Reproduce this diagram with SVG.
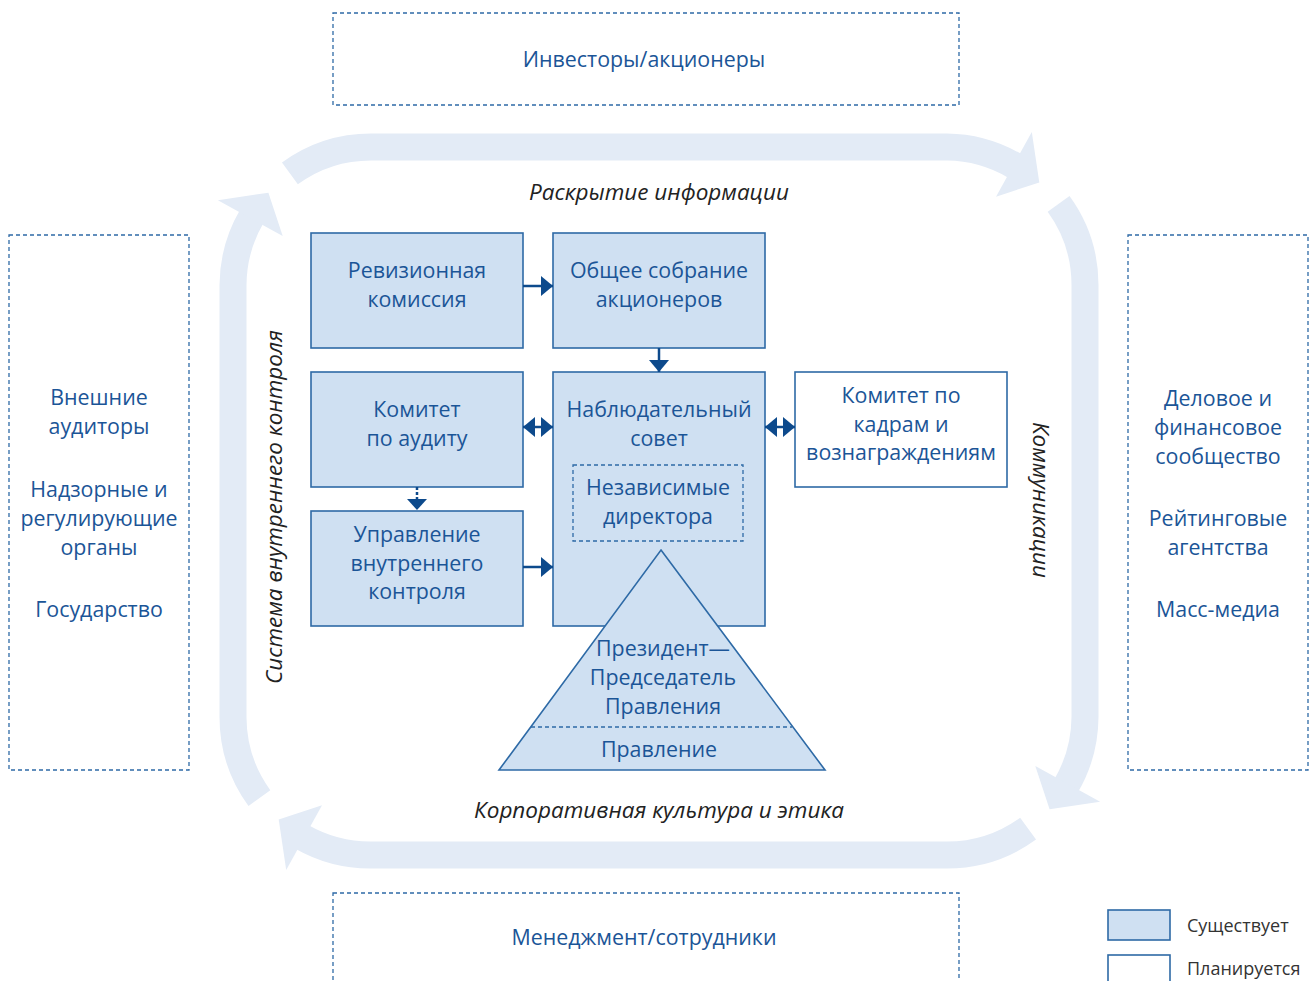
<svg xmlns="http://www.w3.org/2000/svg" width="1309" height="981" viewBox="0 0 1309 981">
<style>
.t{font-family:"Open Sans","Noto Sans","Liberation Sans",sans-serif;font-size:21.4px;fill:#1b5597;text-anchor:middle}
.i{font-family:"Open Sans","Noto Sans","Liberation Sans",sans-serif;font-size:22.5px;font-style:italic;fill:#222;text-anchor:middle}
.lg{font-family:"Open Sans","Noto Sans","Liberation Sans",sans-serif;font-size:18px;fill:#333}
.box{fill:#cfe0f2;stroke:#2e6aa6;stroke-width:1.6}
.wbox{fill:#fff;stroke:#2e6aa6;stroke-width:1.6}
.dbox{fill:none;stroke:#2e6aa6;stroke-width:1.3;stroke-dasharray:4 3}
.band{fill:none;stroke:#e3ebf6;stroke-width:27}
.ah{fill:#e3ebf6}
.ln{stroke:#0d4a8c;stroke-width:2.5;fill:none}
.hd{fill:#0d4a8c}
</style>
<defs>
<marker id="arr" viewBox="0 0 12 20" refX="12" refY="10" markerWidth="12" markerHeight="20" markerUnits="userSpaceOnUse" orient="auto-start-reverse"><path d="M0,0 L12,10 L0,20 Z" fill="#0d4a8c"/></marker>
</defs>
<g id="ring">
<path class="band" d="M289.9,173.4 A138,138 0 0 1 371,147 L947,147 A138,138 0 0 1 1015,166"/>
<polygon class="ah" points="1031.8,131.9 1039.3,182.4 996,196.7"/>
<path class="band" d="M1058.6,203.9 A138,138 0 0 1 1085,285 L1085,717 A138,138 0 0 1 1066,786"/>
<polygon class="ah" points="1100.1,801.8 1049.6,809.3 1035.3,766"/>
<path class="band" d="M1028.1,828.6 A138,138 0 0 1 947,855 L371,855 A138,138 0 0 1 302,837"/>
<polygon class="ah" points="286.2,870.1 278.7,819.6 322,805.3"/>
<path class="band" d="M259.4,798.1 A138,138 0 0 1 233,717 L233,285 A138,138 0 0 1 252,216"/>
<polygon class="ah" points="217.9,200.2 268.4,192.7 282.7,236"/>
</g>
<g id="investors"><rect class="dbox" x="333" y="13" width="626" height="92"/><text class="t" x="644" y="67">Инвесторы/акционеры</text></g>
<g id="external"><rect class="dbox" x="9" y="235" width="180" height="535"/>
<text class="t" x="99" y="405">Внешние</text><text class="t" x="99" y="434">аудиторы</text>
<text class="t" x="99" y="497">Надзорные и</text><text class="t" x="99" y="526">регулирующие</text><text class="t" x="99" y="555">органы</text>
<text class="t" x="99" y="617">Государство</text></g>
<g id="business"><rect class="dbox" x="1128" y="235" width="180" height="535"/>
<text class="t" x="1218" y="406">Деловое и</text><text class="t" x="1218" y="435">финансовое</text><text class="t" x="1218" y="464">сообщество</text>
<text class="t" x="1218" y="526">Рейтинговые</text><text class="t" x="1218" y="555">агентства</text>
<text class="t" x="1218" y="617">Масс-медиа</text></g>
<g id="management"><rect class="dbox" x="333" y="893" width="626" height="100"/><text class="t" x="644" y="945">Менеджмент/сотрудники</text></g>
<g id="revision"><rect class="box" x="311" y="233" width="212" height="115"/><text class="t" x="417" y="278">Ревизионная</text><text class="t" x="417" y="307">комиссия</text></g>
<g id="assembly"><rect class="box" x="553" y="233" width="212" height="115"/><text class="t" x="659" y="278">Общее собрание</text><text class="t" x="659" y="307">акционеров</text></g>
<g id="audit"><rect class="box" x="311" y="372" width="212" height="115"/><text class="t" x="417" y="417">Комитет</text><text class="t" x="417" y="446">по аудиту</text></g>
<g id="board"><rect class="box" x="553" y="372" width="212" height="254"/><text class="t" x="659" y="417">Наблюдательный</text><text class="t" x="659" y="446">совет</text></g>
<g id="independent"><rect class="dbox" x="573" y="465" width="170" height="76"/><text class="t" x="658" y="495">Независимые</text><text class="t" x="658" y="524">директора</text></g>
<g id="hr"><rect class="wbox" x="795" y="372" width="212" height="115"/><text class="t" x="901" y="403">Комитет по</text><text class="t" x="901" y="432">кадрам и</text><text class="t" x="901" y="460">вознаграждениям</text></g>
<g id="control"><rect class="box" x="311" y="511" width="212" height="115"/><text class="t" x="417" y="542">Управление</text><text class="t" x="417" y="571">внутреннего</text><text class="t" x="417" y="599">контроля</text></g>
<g id="executive"><polygon class="box" points="661,550 825,770 499,770"/>
<line x1="531" y1="727" x2="792" y2="727" stroke="#2e6aa6" stroke-width="1.3" stroke-dasharray="4 3"/>
<text class="t" x="663" y="656">Президент—</text><text class="t" x="663" y="685">Председатель</text><text class="t" x="663" y="714">Правления</text>
<text class="t" x="659" y="757">Правление</text></g>
<g id="connectors">
<line class="ln" x1="523" y1="286" x2="553" y2="286" marker-end="url(#arr)"/>
<line class="ln" x1="659" y1="348" x2="659" y2="372" marker-end="url(#arr)"/>
<line class="ln" x1="523" y1="427" x2="553" y2="427" marker-start="url(#arr)" marker-end="url(#arr)"/>
<line class="ln" x1="765" y1="427" x2="795" y2="427" marker-start="url(#arr)" marker-end="url(#arr)"/>
<line class="ln" x1="417" y1="487" x2="417" y2="500" stroke-dasharray="3 2"/>
<polygon class="hd" points="407,499 427,499 417,510"/>
<line class="ln" x1="523" y1="567" x2="553" y2="567" marker-end="url(#arr)"/>
</g>
<g id="labels">
<text class="i" x="659" y="200">Раскрытие информации</text>
<text class="i" x="659" y="818">Корпоративная культура и этика</text>
<text class="i" transform="translate(282,507) rotate(-90)" x="0" y="0">Система внутреннего контроля</text>
<text class="i" transform="translate(1033,500) rotate(90)" x="0" y="0">Коммуникации</text>
</g>
<g id="legend">
<rect class="box" x="1108" y="910" width="62" height="30"/><text class="lg" x="1187" y="932">Существует</text>
<rect class="wbox" x="1108" y="955" width="62" height="30"/><text class="lg" x="1187" y="975">Планируется</text>
</g>
</svg>
